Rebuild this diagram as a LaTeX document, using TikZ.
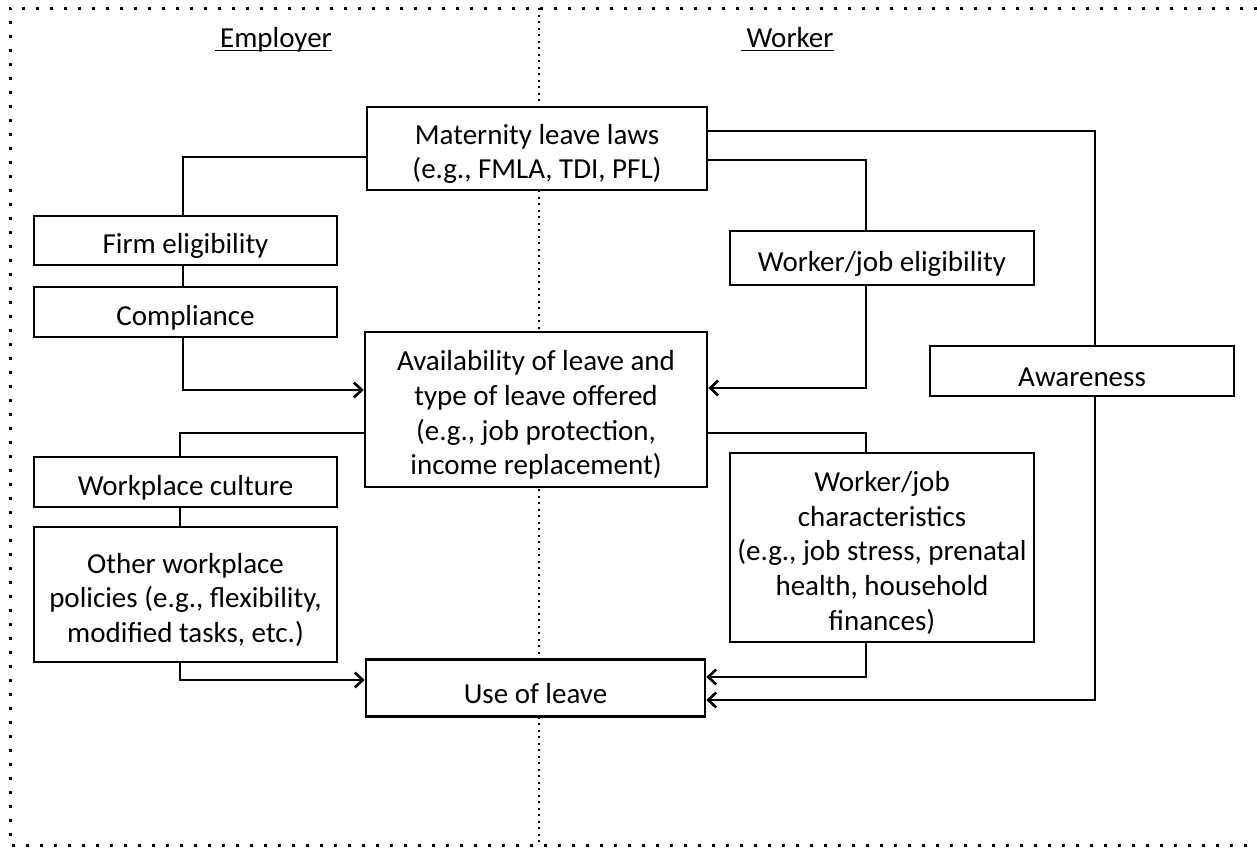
\documentclass[tikz,border=0pt]{standalone}
\usepackage{fontspec}
\setmainfont{Carlito}
\usetikzlibrary{arrows.meta}
\newcommand\toppad{\rule{0pt}{31bp}}
\begin{document}
\begin{tikzpicture}[x=1bp,y=-1bp,
  box/.style={draw, line width=2.6bp, fill=white, inner sep=0pt, align=center, font=\fontsize{29bp}{34.75bp}\selectfont},
  link/.style={line width=2.6bp},
  arr/.style={link, -{Straight Barb[length=8bp,width=15bp]}},
  frame/.style={line width=3bp, dash pattern=on 3bp off 11bp},
  divider/.style={line width=2.5bp, dash pattern=on 2bp off 4.5bp},
  head/.style={inner sep=0pt, font=\fontsize{29bp}{34bp}\selectfont},
  uline/.style={line width=1.6bp}
]
\useasboundingbox (0,0) rectangle (1257,848);
% frame and divider
\draw[frame] (1257,8) -- (10,8) -- (10,845) -- (1257,845);
\draw[divider] (539,8) -- (539,845);
% headings
\node[head, anchor=base] (emp) at (276,47) {Employer};
\draw[uline] ([xshift=-5bp,yshift=-3.5bp]emp.base west) -- ([yshift=-3.5bp]emp.base east);
\node[head, anchor=base] (wrk) at (790,47) {Worker};
\draw[uline] ([xshift=-5bp,yshift=-3.5bp]wrk.base west) -- ([yshift=-3.5bp]wrk.base east);
% boxes
\node[box, minimum width=340bp, minimum height=83bp] (mat) at (537,148.5) {\toppad Maternity leave laws\\(e.g., FMLA, TDI, PFL)};
\node[box, minimum width=303bp, minimum height=49bp] (firm) at (185.5,240.5) {\toppad Firm eligibility};
\node[box, minimum width=303bp, minimum height=50bp] (comp) at (185.5,312) {\toppad Compliance};
\node[box, minimum width=304bp, minimum height=54bp] (welig) at (882,258) {\toppad Worker/job eligibility};
\node[box, minimum width=342bp, minimum height=155bp] (avail) at (536,409.5) {\toppad Availability of leave and\\type of leave offered\\(e.g., job protection,\\income replacement)};
\node[box, minimum width=304bp, minimum height=50bp] (aware) at (1082,371) {\toppad Awareness};
\node[box, minimum width=303bp, minimum height=50bp] (wc) at (185.5,482) {\toppad Workplace culture};
\node[box, minimum width=303bp, minimum height=135bp] (other) at (185.5,594.5) {\toppad Other workplace\\policies (e.g., flexibility,\\modified tasks, etc.)};
\node[box, minimum width=304bp, minimum height=189bp] (wchar) at (882,547.5) {\toppad Worker/job\\characteristics\\(e.g., job stress, prenatal\\health, household\\finances)};
\node[box, minimum width=339bp, minimum height=57bp] (use) at (535.5,688) {\toppad Use of leave};
% connectors
\draw[link] (mat.west |- 0,157) -| (firm.north -| 183,0);
\draw[link] (firm.south -| 183,0) -- (comp.north -| 183,0);
\draw[arr] (comp.south -| 183,0) |- (avail.west |- 0,390);
\draw[link] (mat.east |- 0,131) -| (aware.north -| 1095,0);
\draw[arr] (aware.south -| 1095,0) |- (use.east |- 0,700);
\draw[link] (mat.east |- 0,160) -| (welig.north -| 866,0);
\draw[arr] (welig.south -| 866,0) |- (avail.east |- 0,388);
\draw[link] (avail.west |- 0,433) -| (wc.north -| 180,0);
\draw[link] (wc.south -| 180,0) -- (other.north -| 180,0);
\draw[arr] (other.south -| 180,0) |- (use.west |- 0,680);
\draw[link] (avail.east |- 0,433) -| (wchar.north -| 866,0);
\draw[arr] (wchar.south -| 866,0) |- (use.east |- 0,677);
\end{tikzpicture}
\end{document}
